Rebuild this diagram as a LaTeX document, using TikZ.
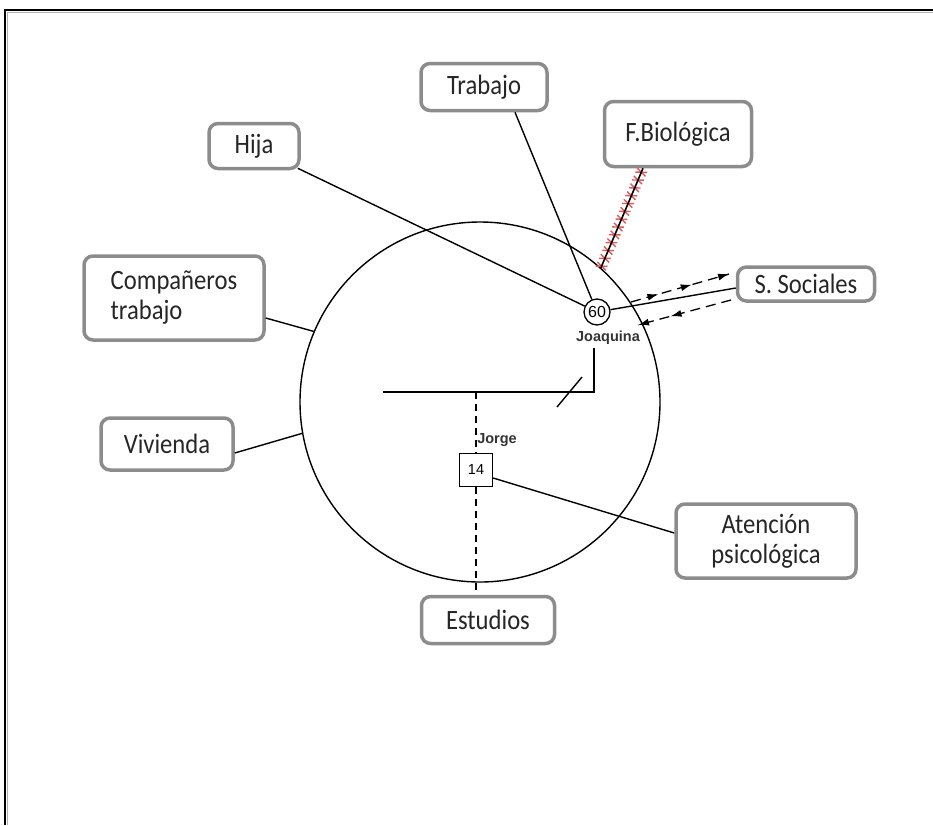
\documentclass[tikz,border=0pt]{standalone}
\usepackage{fontspec}
\setmainfont{Carlito}[FakeStretch=0.88]
\newfontfamily\labelfont{Liberation Sans}
\usetikzlibrary{arrows.meta,decorations.markings}

\definecolor{boxgray}{HTML}{8C8C8C}
\definecolor{textgray}{HTML}{262626}
\definecolor{tickred}{HTML}{DE5B5B}

\tikzset{
  system/.style={draw=boxgray, line width=3.5pt, rounded corners=9pt, fill=white,
    inner sep=2pt, font=\fontsize{28}{30}\selectfont, text=textgray, align=center},
  link/.style={line width=1.4pt, black},
  member/.style={font=\labelfont\bfseries\fontsize{14.5}{16}\selectfont, text=black!80, inner sep=0pt},
  flowline/.style={line width=1.3pt, dash pattern=on 10pt off 6pt},
  brokenlink/.style={
    preaction={decorate, decoration={markings,
      mark=between positions 0.04 and 0.99 step 8.5pt with {
        \draw[tickred, line width=1.4pt] (-2.2pt,-5.5pt) -- (2.2pt,5.5pt);
        \draw[tickred, line width=1.4pt] (2.2pt,-5.5pt) -- (-2.2pt,5.5pt);}}},
    line width=1.6pt, black},
}

\begin{document}
\begin{tikzpicture}[x=1pt, y=-1pt]
\useasboundingbox (0,0) rectangle (933,825);

% page frame: top and left edges only
\draw[black!30, line width=1pt] (7,825) -- (7,12) -- (933,12);
\draw[line width=1.8pt] (5,825) -- (5,10) -- (933,10);

% ecomap circle
\node[draw, circle, line width=1.4pt, minimum size=360pt, inner sep=0pt] (eco) at (480,402) {};

% family members
\node[draw, circle, line width=1.3pt, minimum size=26pt, inner sep=0pt, fill=white,
      font=\labelfont\fontsize{16}{17}\selectfont] (j60) at (597,312) {60};
\node[member] (joaq) at (608,338) {Joaquina};
\node[draw, line width=1.3pt, minimum size=33pt, inner sep=0pt, fill=white,
      font=\labelfont\fontsize{14.5}{16}\selectfont] (jorge) at (476,470) {14};
\node[member] (jorgel) at (497,440) {Jorge};

% external systems
\node[system, minimum width=126pt, minimum height=47pt] (trab) at (484,87) {Trabajo};
\node[system, minimum width=147pt, minimum height=65pt] (bio) at (678,134) {F.Biológica};
\node[system, minimum width=90pt, minimum height=45pt] (hija) at (254,146) {Hija};
\node[system, minimum width=180pt, minimum height=84pt, align=left] (comp) at (174,298) {Compañeros\\trabajo};
\node[system, minimum width=137pt, minimum height=34pt] (soc) at (806,284) {S. Sociales};
\node[system, minimum width=132pt, minimum height=52pt] (viv) at (167,444) {Vivienda};
\node[system, minimum width=180pt, minimum height=74pt] (aten) at (766,541) {Atención\\psicológica};
\node[system, minimum width=133pt, minimum height=47pt] (est) at (488,620) {Estudios};

% household lines
\coordinate (corner) at (594,392);
\coordinate (hleft) at (383,392);
\draw[link] (joaq.south -| corner) ++(0,3) -- (corner) -- (hleft);
\draw[link] (557,407) -- (582,377);
\draw[link, dash pattern=on 7pt off 5pt] (jorge.north |- corner) -- (jorge.north);
\draw[link, dash pattern=on 7pt off 5pt] (jorge.south) -- (jorge.south |- est.north);

% links from the systems
\draw[link] ([shift={(-3pt,2pt)}]hija.south east) -- (j60);
\draw[link] ([xshift=31pt]trab.south) -- (j60);
\draw[link] (comp.east |- 0,318) -- (eco.157);
\draw[link] (viv.east |- 0,453) -- (eco.190);
\draw[link] ([yshift=-8pt]jorge.east) -- ([yshift=8pt]aten.west);
\draw[brokenlink] ([xshift=-35pt]bio.south) -- (eco.48);

% exchange with the social services
\draw[link] (j60) -- ([yshift=-4pt]soc.west);
\coordinate (outA) at (631,302);
\coordinate (outB) at (729,274);
\coordinate (inA) at (731,300);
\coordinate (inB) at (638,325);
\draw[flowline, postaction={decorate}, decoration={markings,
    mark=at position 0.28 with {\arrow{Latex[length=11pt,width=7pt]}},
    mark=at position 0.62 with {\arrow{Latex[length=11pt,width=7pt]}},
    mark=at position 1 with {\arrow{Latex[length=11pt,width=7pt]}}}] (outA) -- (outB);
\draw[flowline, postaction={decorate}, decoration={markings,
    mark=at position 0.65 with {\arrow{Latex[length=11pt,width=7pt]}},
    mark=at position 1 with {\arrow{Latex[length=11pt,width=7pt]}}}] (inA) -- (inB);
\end{tikzpicture}
\end{document}
